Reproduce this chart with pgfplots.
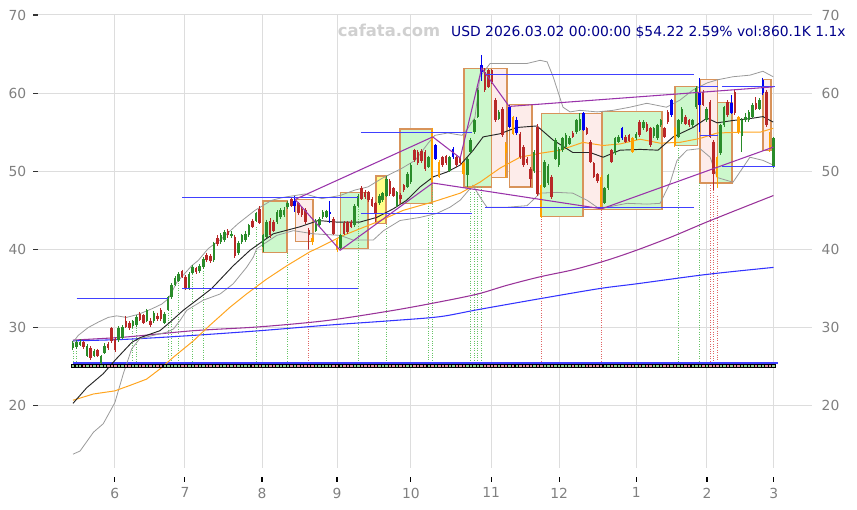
\documentclass[border=0pt]{standalone}
\usepackage{fontspec}
\setmainfont{DejaVu Sans}
\usepackage{pgfplots}
\usepackage{pgfplotstable}
\pgfplotsset{compat=1.18}

\definecolor{cgreen}{HTML}{2A8C2A}
\definecolor{cred}{HTML}{B82828}
\definecolor{cblue}{HTML}{0000F0}
\definecolor{corange}{HTML}{FFA000}
\definecolor{boxgreen}{HTML}{CCF8CC}
\definecolor{boxpink}{HTML}{FDECEA}
\definecolor{boxyellow}{HTML}{FFFF88}
\definecolor{boxedge}{HTML}{D8935A}
\definecolor{gridgray}{HTML}{DDDDDD}
\definecolor{labelgray}{HTML}{808080}
\definecolor{bandgray}{HTML}{9A9A9A}
\definecolor{maorange}{HTML}{FFA520}
\definecolor{mapurple}{HTML}{993399}
\definecolor{mablue}{HTML}{3333FF}
\definecolor{srblue}{HTML}{4040FF}
\definecolor{zzpurple}{HTML}{9933AA}
\definecolor{dotgreen}{HTML}{66C466}
\definecolor{dotred}{HTML}{E06666}
\definecolor{volgreen}{HTML}{94CC94}
\definecolor{volred}{HTML}{DC96A4}
\definecolor{navy}{HTML}{00008B}
\definecolor{wmark}{HTML}{D0D0D0}

% candles: x o c h l
\pgfplotstableread{
x o c h l
0 27.4 28.0 28.3 27.1
1 27.5 28.1 28.4 27.2
2 27.8 28.2 28.5 27.6
4 26.4 27.6 27.9 26.2
6 26.4 27.0 27.2 26.2
8 25.5 26.3 26.5 25.2
9 26.8 27.7 28.0 26.6
13 28.4 30.0 30.2 28.2
14 28.7 30.1 30.3 28.5
17 30.2 30.8 31.0 30.0
18 30.3 31.4 31.6 30.1
21 30.9 32.2 32.4 30.7
23 30.8 31.9 32.1 30.6
26 30.6 31.8 32.0 30.4
27 32.3 33.9 34.1 32.1
28 33.9 35.4 35.7 33.7
29 35.5 36.4 36.6 35.3
30 36.0 36.9 37.1 35.8
33 35.0 36.9 37.1 34.8
34 37.0 37.8 38.0 36.8
36 37.2 37.9 38.1 37.0
37 37.7 38.8 39.0 37.5
40 38.6 40.8 41.0 38.4
42 40.9 41.9 42.1 40.7
43 41.2 42.2 42.5 41.0
45 41.7 42.0 42.3 41.4
47 39.5 40.8 41.1 39.3
48 40.9 41.8 42.0 40.7
49 41.2 42.0 42.3 41.0
50 41.8 43.1 43.3 41.6
52 43.7 44.6 44.8 43.5
54 40.3 41.8 42.0 39.7
55 41.6 43.5 43.8 41.4
58 43.5 44.8 45.0 43.3
59 44.1 45.0 45.3 43.9
60 44.4 45.1 45.4 44.2
61 45.4 46.0 46.2 45.2
69 42.4 43.7 43.9 42.2
70 43.1 43.9 44.1 42.9
71 44.1 44.8 45.0 43.9
72 44.2 44.9 45.1 44.0
76 40.2 41.8 42.0 40.0
80 43.1 45.6 45.8 42.9
81 45.6 46.9 47.1 45.4
87 45.9 46.9 47.1 45.7
88 46.3 47.2 47.4 46.1
89 46.9 49.0 49.4 46.7
92 45.6 47.3 47.5 45.4
95 48.0 49.7 49.9 47.8
96 48.6 50.8 51.0 48.4
101 50.6 51.8 52.0 50.4
107 50.1 51.8 52.0 49.9
112 49.5 51.6 51.8 48.0
113 52.5 54.0 54.3 52.3
114 55.0 56.5 56.7 54.8
115 57.0 60.4 60.7 56.8
121 56.7 57.6 57.8 56.5
131 50.0 52.5 52.7 49.8
134 48.0 51.2 51.4 47.8
135 48.5 50.7 50.9 48.3
137 51.6 54.0 54.2 51.4
138 50.8 52.9 53.1 50.6
139 52.7 54.2 54.4 52.5
140 53.1 54.7 54.9 52.9
141 53.5 54.2 54.5 53.3
143 55.0 56.5 56.7 54.8
144 55.3 56.7 57.4 55.1
151 46.0 47.8 48.0 45.8
152 47.8 49.5 49.7 47.6
154 52.3 54.2 54.4 52.1
155 53.8 54.4 54.6 53.6
160 54.2 54.8 55.0 54.0
162 55.5 56.3 56.5 55.3
165 54.5 55.5 55.7 54.3
166 54.2 55.9 56.1 54.0
167 55.9 56.5 56.7 55.7
172 54.4 56.5 56.7 54.2
173 56.3 58.0 58.2 56.1
176 55.9 56.5 56.7 55.7
177 58.2 60.6 60.9 58.0
180 56.5 58.0 58.2 56.3
184 52.3 55.9 56.1 52.1
185 55.9 58.2 58.4 55.7
190 54.5 56.6 56.8 52.5
191 56.5 57.0 57.4 56.3
192 56.5 57.6 57.8 56.3
193 57.0 58.5 58.8 56.8
195 58.0 59.1 59.4 57.8
199 50.6 54.2 54.4 50.4
}\candG

\pgfplotstableread{
x o c h l
3 28.1 27.5 28.3 27.2
5 27.4 26.1 27.6 25.9
7 27.1 26.4 27.3 26.2
10 27.9 27.4 28.2 27.1
11 29.9 28.3 30.1 28.0
12 28.5 27.1 28.7 26.9
15 30.9 30.1 31.5 29.9
16 30.6 29.9 30.8 29.7
19 31.8 31.0 32.0 30.8
20 31.6 30.6 31.8 30.4
22 30.9 30.3 31.2 30.1
24 31.5 31.1 31.9 30.9
25 32.3 31.1 32.5 30.9
31 37.2 36.5 37.4 36.3
32 36.5 35.0 36.7 34.8
35 37.6 37.1 37.8 36.9
38 39.3 38.7 39.6 38.4
39 39.2 38.5 39.4 38.2
41 41.4 40.7 41.8 40.5
44 42.4 41.8 42.6 41.5
46 41.6 39.2 41.9 38.9
51 43.7 42.9 43.9 42.7
53 45.2 43.4 45.5 43.2
56 43.7 41.8 44.0 41.5
57 43.5 42.4 43.8 42.2
62 46.4 45.6 46.6 45.4
64 45.9 44.6 46.1 44.4
65 45.2 44.4 45.4 44.2
66 45.1 43.5 45.3 43.3
67 42.5 41.8 42.8 40.0
74 43.9 42.0 44.1 41.8
77 43.4 42.0 43.6 41.8
78 43.5 42.2 43.7 42.0
79 43.5 42.9 43.8 42.7
82 47.9 46.5 48.1 46.3
83 47.4 46.7 47.6 46.5
84 47.3 46.3 47.5 46.1
85 46.5 45.6 46.7 45.4
86 45.9 44.5 46.1 43.5
90 48.8 47.1 49.0 46.9
91 47.8 46.9 48.0 46.7
93 47.0 46.4 47.2 45.9
94 48.2 47.6 48.4 47.4
97 52.7 51.4 52.9 51.2
98 52.5 51.0 52.7 50.8
99 52.6 51.3 52.8 51.1
100 52.5 50.3 52.7 50.1
105 51.8 50.8 52.0 50.6
106 51.9 51.0 52.1 50.8
109 51.8 50.8 52.0 50.6
110 51.8 51.0 52.0 50.8
117 62.7 60.4 63.2 60.2
118 62.9 60.8 63.1 60.6
119 62.9 61.4 63.1 61.2
120 59.1 56.5 59.4 56.3
122 58.0 54.6 58.2 54.4
127 54.8 51.8 55.0 51.6
128 53.1 50.8 53.3 50.6
129 51.6 51.0 51.8 50.8
130 50.3 49.0 50.5 48.0
132 55.7 47.1 56.0 46.9
136 49.3 46.7 49.5 46.5
142 54.9 54.4 55.1 54.2
146 55.5 54.8 55.7 54.6
147 53.8 51.2 54.0 51.0
148 51.0 49.3 51.2 49.1
149 49.6 48.7 49.8 48.5
153 52.7 51.2 52.9 51.0
157 54.4 53.8 54.6 53.6
158 54.6 53.9 54.8 53.7
161 56.3 54.6 56.5 54.4
163 56.1 55.2 56.3 55.0
164 55.5 53.3 55.7 53.1
168 55.5 54.4 55.7 54.2
169 57.6 56.3 57.8 56.1
174 57.0 56.1 57.2 55.9
175 56.5 55.9 56.7 55.7
179 60.2 58.5 60.4 58.3
181 58.9 54.4 59.1 54.2
182 53.8 49.7 54.0 47.6
186 58.9 57.2 59.1 57.0
188 60.2 57.4 60.4 57.2
194 58.7 58.0 59.5 57.8
197 60.2 55.9 60.4 55.7
}\candR

\pgfplotstableread{
x o c h l
63 46.2 45.6 46.8 44.8
73 44.5 44.8 46.2 43.4
103 53.3 51.6 53.5 51.4
108 51.8 52.9 53.1 51.6
116 62.7 63.6 64.9 61.5
124 58.2 55.7 58.5 55.5
126 56.5 54.9 57.0 54.7
145 55.3 57.4 57.6 55.1
156 54.2 55.5 55.7 54.0
170 57.2 59.1 59.3 57.0
178 58.5 60.0 61.9 55.0
187 57.5 58.8 59.7 57.3
196 60.0 61.7 62.0 59.8
}\candB

\pgfplotstableread{
x o c h l
68 41.5 41.0 41.8 40.6
75 41.2 39.9 41.4 39.7
102 55.3 48.6 55.6 48.4
104 51.2 49.3 51.4 49.1
111 51.0 49.7 51.2 49.5
123 53.5 52.3 53.7 49.2
125 56.9 54.8 57.1 54.6
133 48.2 44.1 48.4 44.0
150 49.3 45.4 49.5 45.1
159 54.2 52.5 54.4 52.3
171 55.5 53.3 55.7 53.1
183 51.8 49.3 52.0 47.8
189 56.9 55.0 57.1 54.8
198 53.3 52.8 55.0 52.5
}\candO

% signal lines: x top
\pgfplotstableread{
x top
0 27.0
1 27.0
17 29.9
18 30.0
27 32.2
28 32.3
30 36.0
34 36.8
37 37.6
52 42.9
61 39.6
81 46.7
89 43.3
101 45.9
102 48.6
113 48.0
114 48.0
115 48.0
116 48.0
172 53.3
178 48.5
}\sigG

\pgfplotstableread{
x top
67 40.3
133 44.2
150 45.1
181 48.5
182 47.6
183 46.8
}\sigR

\pgfplotsset{
  bar/.style 2 args={draw=none, mark=none, forget plot,
    error bars/.cd, y dir=minus, y explicit, error mark=none,
    error bar style={line width=#2, draw=#1, solid}},
  wick/.style={bar={#1}{0.75pt}},
  body/.style={bar={#1}{1.9pt}},
  sig/.style={draw=none, mark=none, forget plot,
    error bars/.cd, y dir=minus, y explicit, error mark=none,
    error bar style={line width=0.55pt, draw=#1, dash pattern=on 0.7pt off 1.1pt}},
  rng/.style={fill=#1, draw=boxedge, line width=0.9pt},
  vol/.style={only marks, mark=square*, mark size=1.3pt,
    mark options={draw=none, fill=#1, yscale=0.75}},
  sr/.style={draw=srblue, line width=0.75pt, mark=none},
}

\begin{document}
\begin{tikzpicture}
\path[use as bounding box] (0,0) rectangle (642.75pt,382.5pt);
\begin{axis}[
  at={(28.5pt,31.5pt)}, anchor=south west,
  scale only axis, width=580.5pt, height=339.75pt,
  xmin=-9.94, xmax=209.94, ymin=12.03, ymax=70,
  axis line style={draw=none},
  clip=false,
  xtick={11.9,31.8,53.7,75,96,118.8,138.1,160,180.1,199.1},
  xticklabels={6,7,8,9,10,11,12,1,2,3},
  ytick={20,30,40,50,60,70},
  xtick pos=bottom, ytick pos=left,
  tick align=outside, major tick length=3.75pt,
  xtick style={draw=black, line width=0.8pt, yshift=-6.75pt},
  ytick style={draw=black!80, line width=0.8pt},
  grid=major, major grid style={draw=gridgray, line width=0.75pt},
  tick label style={font=\fontsize{10.4}{12}\selectfont, text=labelgray},
  xticklabel style={yshift=-7.5pt},
  yticklabel style={xshift=-1.5pt},
  /pgf/number format/assume math mode=true,
]
% range boxes
\addplot[rng=boxgreen]  coordinates {(54.0,39.6)(60.8,39.6)(60.8,46.2)(54.0,46.2)} --cycle;
\addplot[rng=boxpink]   coordinates {(63.1,41.0)(68.2,41.0)(68.2,46.4)(63.1,46.4)} --cycle;
\addplot[rng=boxgreen]  coordinates {(76.1,40.1)(83.8,40.1)(83.8,47.3)(76.1,47.3)} --cycle;
\addplot[rng=boxyellow] coordinates {(86.1,43.3)(88.9,43.3)(88.9,49.4)(86.1,49.4)} --cycle;
\addplot[rng=boxgreen]  coordinates {(92.9,45.9)(102.0,45.9)(102.0,55.4)(92.9,55.4)} --cycle;
\addplot[rng=boxgreen]  coordinates {(111.1,48.0)(119.0,48.0)(119.0,63.2)(111.1,63.2)} --cycle;
\addplot[rng=boxpink]   coordinates {(119.0,49.2)(123.3,49.2)(123.3,63.2)(119.0,63.2)} --cycle;
\addplot[rng=boxpink]   coordinates {(123.9,48.0)(130.4,48.0)(130.4,58.5)(123.9,58.5)} --cycle;
\addplot[rng=boxgreen]  coordinates {(133.0,44.2)(144.9,44.2)(144.9,57.4)(133.0,57.4)} --cycle;
\addplot[rng=boxpink]   coordinates {(144.9,45.1)(150.3,45.1)(150.3,57.4)(144.9,57.4)} --cycle;
\addplot[rng=boxgreen]  coordinates {(150.3,45.1)(167.3,45.1)(167.3,57.7)(150.3,57.7)} --cycle;
\addplot[rng=boxgreen]  coordinates {(171.0,53.3)(177.3,53.3)(177.3,60.9)(171.0,60.9)} --cycle;
\addplot[rng=boxpink]   coordinates {(178.1,48.5)(183.2,48.5)(183.2,61.7)(178.1,61.7)} --cycle;
\addplot[rng=boxgreen]  coordinates {(183.2,48.5)(187.2,48.5)(187.2,58.8)(183.2,58.8)} --cycle;
\addplot[rng=boxpink]   coordinates {(196.0,52.7)(198.3,52.7)(198.3,61.7)(196.0,61.7)} --cycle;

% signal verticals
\addplot[sig=dotgreen] table[x=x, y=top, y error minus expr=\thisrow{top}-25.3] {\sigG};
\addplot[sig=dotred] table[x=x, y=top, y error minus expr=\thisrow{top}-25.3] {\sigR};

% volume strip
\addplot[vol=volgreen] table[x=x, y expr=25.12] {\candG};
\addplot[vol=volred] table[x=x, y expr=25.12] {\candR};
\addplot[vol=volgreen] table[x=x, y expr=25.12] {\candB};
\addplot[vol=volred] table[x=x, y expr=25.12] {\candO};
\addplot[draw=srblue, line width=1.1pt] coordinates {(0,25.45)(200.3,25.45)};

% long moving averages
\addplot[draw=mapurple, line width=0.8pt, smooth] coordinates {(0,28.4)(15.2,28.8)(34.2,29.6)(53.1,30.1)(72.1,30.9)(91,32.2)(104.3,33.3)(115,34.3)(123.2,35.4)(132.7,36.5)(142.1,37.4)(151.6,38.6)(160.1,39.9)(170,41.6)(180,43.5)(190,45.3)(199,46.9)};
\addplot[draw=mablue, line width=0.8pt, smooth] coordinates {(0,28.3)(15.2,28.5)(34.2,29.0)(53.1,29.6)(72.1,30.3)(91,30.9)(104.3,31.4)(115.1,32.3)(132.7,33.7)(149.7,35.0)(160.1,35.6)(180,36.8)(199,37.7)};

% bands
\addplot[draw=bandgray, line width=0.6pt] coordinates {(0,28.1)(1.5,29.0)(4.3,30.0)(7.2,30.7)(10,31.3)(12.4,31.5)(15.2,31.3)(18.6,31.7)(22.4,32.4)(25.2,33.0)(27.1,33.7)(29.5,35.8)(31.3,36.7)(33.7,37.9)(35.6,38.6)(38.4,40.1)(42.3,41.4)(46.9,43.3)(51.7,45.0)(56.5,46.3)(60.2,46.7)(63.1,46.9)(65.9,47.1)(70.7,46.5)(75.9,46.9)(80.1,47.6)(83.8,48.0)(87.8,49.1)(93.5,50.4)(97.2,51.4)(100.9,53.6)(102.8,54.6)(106.5,54.9)(110.5,54.6)(112.2,55.5)(114.2,56.9)(115.6,62.1)(118.5,63.8)(124.1,63.8)(129,63.8)(132.7,64.2)(134.7,64.0)(136.4,62.1)(139.2,58.2)(141.2,57.6)(144,57.8)(148.9,57.6)(153.4,57.8)(158.2,58.2)(163,58.7)(168.6,58.2)(172.4,59.1)(176.1,60.4)(180.1,61.3)(183,61.7)(187.5,62.1)(192.3,62.3)(196,62.8)(198.9,62.1)};
\addplot[draw=bandgray, line width=0.6pt] coordinates {(0,13.8)(2,14.2)(5.8,16.6)(8.6,17.7)(11.9,20.4)(14.3,24.1)(16.7,27.3)(19,28.6)(24.7,29.2)(26.6,29.4)(28.5,29.8)(30.4,30.9)(32.3,32.2)(37,33.5)(41.8,34.3)(45.5,35.6)(49.3,37.7)(51.2,39.0)(52.2,40.1)(57.9,41.8)(62.6,42.4)(68.3,42.0)(75.9,41.8)(79.6,41.2)(85.3,41.2)(88.2,42.4)(92.9,43.7)(98.6,44.1)(103.3,44.6)(107.1,45.4)(110,46.3)(113.6,48.2)(116.2,46.3)(117.6,45.4)(123.3,45.4)(129,45.6)(132.7,47.2)(137.5,47.3)(142,47.2)(146,46.3)(148.9,45.4)(151.7,45.4)(157.4,45.9)(163.1,45.8)(166.8,45.9)(169.6,48.5)(171.6,51.4)(174.4,52.7)(178.1,52.9)(181,51.8)(183,49.2)(187.5,48.6)(192.3,51.8)(196,51.4)(198.9,50.8)};

% short moving averages
\addplot[draw=maorange, line width=0.75pt] coordinates {(0,20.7)(5.8,21.5)(11.9,21.9)(16.2,22.6)(20.9,23.4)(24.7,24.7)(28.5,26.2)(34.2,28.3)(38.9,30.3)(44.6,32.6)(49.3,34.3)(55,36.2)(60.7,37.9)(67.3,39.7)(69.2,40.1)(76.8,41.8)(86.3,43.5)(93.8,45.0)(102.4,46.1)(110,47.2)(115.6,48.6)(121.3,50.4)(127,51.8)(132.7,52.3)(138.4,52.7)(144.9,53.7)(150.6,53.3)(155.4,53.5)(161.1,54.1)(166.8,53.6)(172.4,53.7)(178.1,54.2)(183,54.9)(189.5,55.0)(195.2,55.0)(198.9,55.5)};
\addplot[draw=black!85, line width=0.7pt] coordinates {(0,20.3)(3.9,22.3)(8.6,24.1)(11.9,25.8)(16.7,28.1)(19,28.7)(24.7,29.6)(27.6,30.7)(31.3,32.2)(35.1,33.5)(39.4,35.0)(45.5,37.9)(50.3,39.9)(56.9,42.0)(64.5,42.9)(69.7,43.7)(74.9,43.5)(81.5,43.5)(86.3,44.1)(91,45.2)(94.8,46.3)(98.6,48.0)(102.4,49.3)(106.2,49.9)(110,50.8)(113.7,52.7)(116.5,54.4)(121.3,54.8)(126,55.6)(131.8,55.8)(136.4,54.0)(142,52.4)(146.9,52.4)(150.6,51.8)(155.4,52.7)(161.1,52.8)(166.2,52.7)(170.5,54.4)(176.1,55.6)(180.1,56.8)(183,56.2)(187.5,56.5)(193.2,56.8)(196,57.0)(198.9,56.3)};

% candles
\addplot[wick=cgreen] table[x=x, y=h, y error minus expr=\thisrow{h}-\thisrow{l}] {\candG};
\addplot[body=cgreen] table[x=x, y=c, y error minus expr=\thisrow{c}-\thisrow{o}] {\candG};
\addplot[wick=cred] table[x=x, y=h, y error minus expr=\thisrow{h}-\thisrow{l}] {\candR};
\addplot[body=cred] table[x=x, y=o, y error minus expr=\thisrow{o}-\thisrow{c}] {\candR};
\addplot[wick=corange] table[x=x, y=h, y error minus expr=\thisrow{h}-\thisrow{l}] {\candO};
\addplot[body=corange] table[x=x, y=o, y error minus expr=\thisrow{o}-\thisrow{c}] {\candO};
\addplot[wick=cblue] table[x=x, y=h, y error minus expr=\thisrow{h}-\thisrow{l}] {\candB};
\addplot[body=cblue] table[x=x, y expr={max(\thisrow{o},\thisrow{c})}, y error minus expr={abs(\thisrow{o}-\thisrow{c})}] {\candB};

% support / resistance
\addplot[sr] coordinates {(1,33.7)(27.1,33.7)};
\addplot[sr] coordinates {(31,35.0)(81,35.0)};
\addplot[sr] coordinates {(31,46.7)(81,46.7)};
\addplot[sr] coordinates {(81.8,54.9)(113.4,54.9)};
\addplot[sr] coordinates {(81.8,44.6)(113.4,44.6)};
\addplot[sr] coordinates {(117,62.4)(176.4,62.4)};
\addplot[sr] coordinates {(117,45.4)(176.4,45.4)};
\addplot[sr] coordinates {(178,60.8)(183.2,60.8)};
\addplot[sr] coordinates {(178,54.6)(183.2,54.6)};
\addplot[sr] coordinates {(184.3,60.9)(199.4,60.9)};
\addplot[sr] coordinates {(184.3,50.6)(199.4,50.6)};

% zigzag channel
\addplot[draw=zzpurple, line width=0.8pt] coordinates {(63.1,46.4)(102.2,54.4)(110,51.7)(116.1,63.2)(123.9,58.3)(198.9,60.8)};
\addplot[draw=zzpurple, line width=0.8pt] coordinates {(63.1,46.4)(75.9,39.9)(102.2,48.5)(150.2,45.2)(199,53.1)};

\node[anchor=base, font=\fontsize{12.3}{14}\selectfont\bfseries, text=wmark] at (axis cs:89.8,67.3) {cafata.com};
\node[anchor=base east, inner sep=0pt, font=\fontsize{10.4}{12}\selectfont, text=navy] at (axis cs:219.6,67.22) {USD 2026.03.02 00:00:00 \$54.22 2.59\% vol:860.1K 1.1x};
\end{axis}
\begin{axis}[
  at={(28.5pt,31.5pt)}, anchor=south west,
  scale only axis, width=580.5pt, height=339.75pt,
  xmin=-9.94, xmax=209.94, ymin=12.03, ymax=70,
  axis line style={draw=none},
  xtick=\empty,
  ytick={20,30,40,50,60,70},
  ytick pos=right, yticklabel pos=right,
  tick align=outside, major tick length=3.75pt,
  ytick style={draw=none},
  tick label style={font=\fontsize{10.4}{12}\selectfont, text=labelgray},
  /pgf/number format/assume math mode=true,
]
\end{axis}
\end{tikzpicture}
\end{document}
